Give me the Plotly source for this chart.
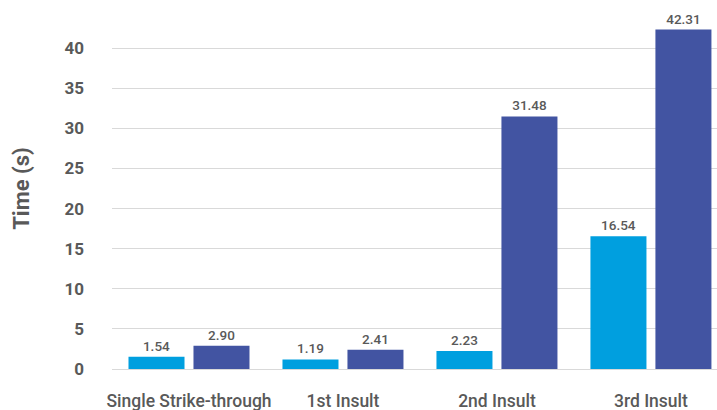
import plotly.graph_objects as go

categories = ["Single Strike-through", "1st Insult", "2nd Insult", "3rd Insult"]
series_a = [1.54, 1.19, 2.23, 16.54]
series_b = [2.90, 2.41, 31.48, 42.31]
y_ticks = [0, 5, 10, 15, 20, 25, 30, 35, 40]

FONT = "Roboto"
TXT = "#595959"

fig = go.Figure()
for vals, col in [(series_a, "#009FDF"), (series_b, "#4254A2")]:
    fig.add_trace(go.Bar(
        x=categories, y=vals, marker=dict(color=col, line=dict(width=0)),
        text=[f"{v:.2f}" for v in vals], textposition="outside",
        textfont=dict(family=FONT, size=13.5, color=TXT, weight=500),
        cliponaxis=False, showlegend=False,
    ))

fig.update_layout(
    width=717, height=410,
    margin=dict(l=112, r=0, t=8, b=41),
    paper_bgcolor="white", plot_bgcolor="white",
    barmode="group", bargap=0.156, bargroupgap=0.138,
    font=dict(family=FONT, color=TXT),
)
fig.update_xaxes(
    range=[-0.5, 3.429], showgrid=False, showline=False, zeroline=False,
    ticks="", ticklabelstandoff=19, automargin=False,
    tickfont=dict(family=FONT, size=17.5, color=TXT, weight=500),
)
fig.update_yaxes(
    range=[0, 45], tickvals=y_ticks, showgrid=True, gridcolor="#D9D9D9",
    gridwidth=1, zeroline=True, zerolinecolor="#D9D9D9", zerolinewidth=1,
    showline=False, ticks="", ticklabelstandoff=27, automargin=False,
    tickfont=dict(family=FONT, size=17, color=TXT, weight="bold"),
    title=dict(text="Time (s)", standoff=28,
               font=dict(family=FONT, size=22, color=TXT, weight="bold")),
)

fig.write_html(
    "out.html",
    config={"displayModeBar": False},
    post_script="document.body.style.margin='0';document.body.style.overflow='hidden';",
)
